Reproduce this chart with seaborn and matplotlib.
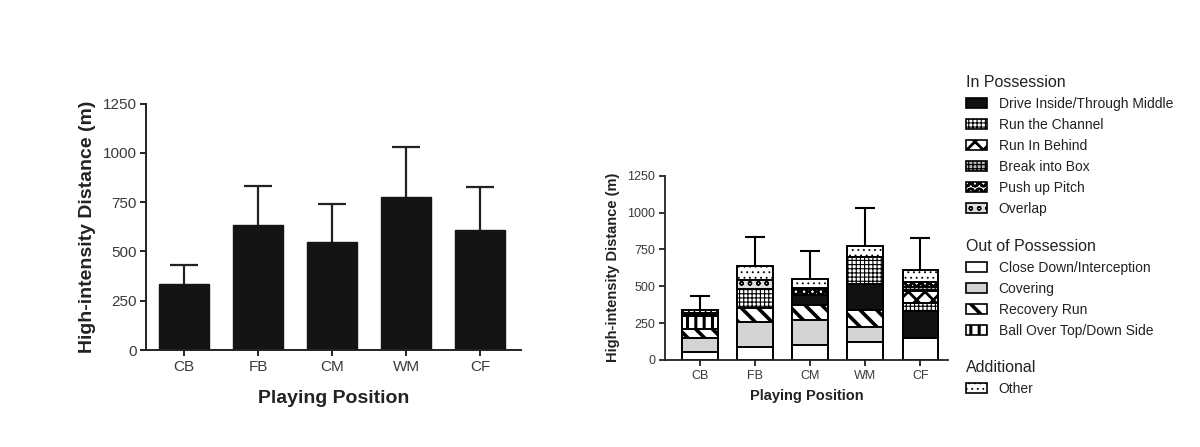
import numpy as np
import matplotlib
matplotlib.use("Agg")
import matplotlib.pyplot as plt
import matplotlib.patches as mpatches
import seaborn as sns

# playing positions and overall high-intensity distance (mean, SD)
positions = ["CB", "FB", "CM", "WM", "CF"]
hi_mean = [333, 635, 548, 775, 607]
hi_sd = [100, 198, 192, 255, 218]

# breakdown by activity (m), stacked bottom to top
close_down = [52, 90, 104, 118, 145]
covering = [95, 165, 167, 104, 0]
recovery_run = [63, 100, 99, 117, 0]
ball_over_top = [90, 0, 0, 0, 0]
drive_inside = [0, 0, 70, 174, 187]
run_channel = [16, 124, 0, 187, 57]
run_behind = [0, 0, 0, 0, 79]
break_box = [0, 0, 0, 0, 29]
push_up = [0, 0, 41, 0, 34]
overlap = [0, 63, 9, 0, 0]
other = [23, 95, 59, 75, 79]

layers = [
    ("Close Down/Interception", close_down),
    ("Covering", covering),
    ("Recovery Run", recovery_run),
    ("Ball Over Top/Down Side", ball_over_top),
    ("Drive Inside/Through Middle", drive_inside),
    ("Run the Channel", run_channel),
    ("Run In Behind", run_behind),
    ("Break into Box", break_box),
    ("Push up Pitch", push_up),
    ("Overlap", overlap),
    ("Other", other),
]

# facecolor, hatch, hatch linewidth
styles = {
    "Drive Inside/Through Middle": ("#111111", None, 1.0),
    "Run the Channel": ("white", "++++", 0.8),
    "Run In Behind": ("white", "xx", 2.0),
    "Break into Box": ("#bbbbbb", "++++", 0.9),
    "Push up Pitch": ("white", "OO", 1.8),
    "Overlap": ("#dddddd", "oo", 0.9),
    "Close Down/Interception": ("white", None, 1.0),
    "Covering": ("#d4d4d4", None, 1.0),
    "Recovery Run": ("white", "\\\\", 2.6),
    "Ball Over Top/Down Side": ("white", "||", 2.2),
    "Other": ("white", "...", 0.6),
}

sns.set_style("ticks")
plt.rcParams["font.family"] = ["Liberation Sans", "DejaVu Sans"]
plt.rcParams["hatch.linewidth"] = 1.2

fig = plt.figure(figsize=(12, 4.47), dpi=100)
ax1 = fig.add_axes([0.122, 0.217, 0.312, 0.551])
ax2 = fig.add_axes([0.554, 0.195, 0.236, 0.412])


def style_axis(ax, tick_size, label_size, lw, xpad, ypad):
    ax.set_ylim(0, 1250)
    ax.set_yticks([0, 250, 500, 750, 1000, 1250])
    sns.despine(ax=ax)
    for s in ("left", "bottom"):
        ax.spines[s].set_linewidth(lw)
        ax.spines[s].set_color("#222222")
    ax.tick_params(axis="both", length=4, width=lw, color="#222222",
                   labelsize=tick_size, labelcolor="#3a3a3a", pad=3)
    ax.set_xlabel("Playing Position", fontsize=label_size, fontweight="bold",
                  color="#222222", labelpad=xpad)
    ax.set_ylabel("High-intensity Distance (m)", fontsize=label_size,
                  fontweight="bold", color="#222222", labelpad=ypad)


# left: total high-intensity distance, SD bars tucked behind the bars
sns.barplot(x=positions, y=hi_mean, order=positions, color="#141414",
            saturation=1, width=0.67, errorbar=None, edgecolor="#141414", ax=ax1)
ax1.errorbar(np.arange(len(positions)), hi_mean, yerr=hi_sd,
             fmt="none", ecolor="#222222", elinewidth=1.6, capsize=10,
             capthick=1.6, zorder=0.5)
ax1.set_xlim(-0.51, 4.55)
style_axis(ax1, 11, 14, 1.4, 12, 5)

# right: stacked by activity, drawn from the full total downward
cum = np.cumsum(np.array([v for _, v in layers]), axis=0)
for i in range(len(layers) - 1, -1, -1):
    name = layers[i][0]
    fc, hatch, hlw = styles[name]
    sns.barplot(x=positions, y=cum[i], order=positions, color=fc, saturation=1,
                width=0.65, errorbar=None, edgecolor="black", linewidth=1.4,
                hatch=hatch, ax=ax2)
    for p in ax2.patches[-len(positions):]:
        if hasattr(p, "set_hatch_linewidth"):
            p.set_hatch_linewidth(hlw)
ax2.errorbar(np.arange(len(positions)), hi_mean, yerr=hi_sd,
             fmt="none", ecolor="black", elinewidth=1.5, capsize=7,
             capthick=1.5, zorder=0.5)
ax2.set_xlim(-0.64, 4.5)
style_axis(ax2, 9, 10.5, 1.3, 5, 5)


def add_legend(title, names, top):
    handles = []
    for n in names:
        fc, hatch, hlw = styles[n]
        h = mpatches.Patch(facecolor=fc, hatch=hatch, edgecolor="black",
                           linewidth=1.2, label=n)
        handles.append(h)
    leg = fig.legend(handles=handles, title=title, loc="upper left",
                     bbox_to_anchor=(0.805, top), frameon=False, fontsize=10,
                     title_fontsize=11.5, alignment="left", handlelength=1.5,
                     handleheight=0.8, handletextpad=0.85, labelspacing=0.5,
                     borderpad=0, borderaxespad=0)
    for t in leg.get_texts():
        t.set_color("#222222")
    leg.get_title().set_color("#222222")
    for p, n in zip(leg.get_patches(), names):
        if hasattr(p, "set_hatch_linewidth"):
            p.set_hatch_linewidth(styles[n][2])
    return leg


add_legend("In Possession", ["Drive Inside/Through Middle", "Run the Channel",
                             "Run In Behind", "Break into Box", "Push up Pitch",
                             "Overlap"], 1 - 75 / 447)
add_legend("Out of Possession", ["Close Down/Interception", "Covering",
                                 "Recovery Run", "Ball Over Top/Down Side"],
           1 - 239 / 447)
add_legend("Additional", ["Other"], 1 - 360 / 447)

fig.savefig("out.png", dpi=100, facecolor="white")
